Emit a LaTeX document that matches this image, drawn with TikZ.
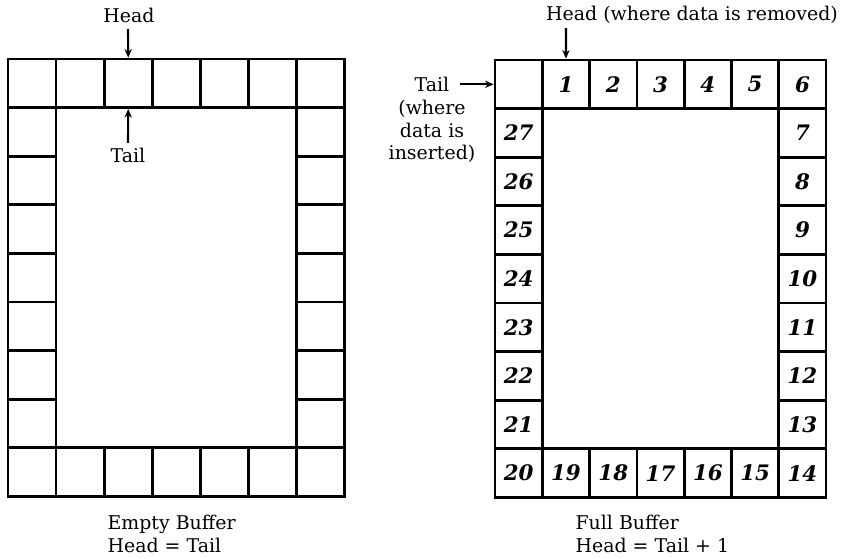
\documentclass[tikz,border=0pt]{standalone}
\usepackage{fontspec}
\setmainfont{DejaVu Serif}
\usepackage{tikz}
\usetikzlibrary{calc, arrows.meta}

\begin{document}
\begin{tikzpicture}[x=0.75pt, y=-0.75pt, >={Stealth[length=6.5pt, width=5.5pt]}]

% Styles
\tikzset{
  cellE/.style={draw, line width=2pt, minimum width=36.1pt, minimum height=36.45pt, inner sep=0pt},
  cellF/.style={draw, line width=2pt, minimum width=35.5pt, minimum height=36.45pt, inner sep=0pt,
    font=\fontsize{16}{16}\selectfont\bfseries\itshape},
  label/.style={font=\fontsize{14.2}{17}\selectfont},
  pointer/.style={->, line width=1.6pt}
}

% Page
\useasboundingbox (0,0) rectangle (846,558);

% Empty buffer (left)
\foreach \c in {0,...,6} {
  \node[cellE] (e-0-\c) at ({8+48.1*(\c+0.5)},{59+48.6*0.5}) {};
  \node[cellE] (e-8-\c) at ({8+48.1*(\c+0.5)},{59+48.6*8.5}) {};
}
\foreach \r in {1,...,7} {
  \node[cellE] (e-\r-0) at ({8+48.1*0.5},{59+48.6*(\r+0.5)}) {};
  \node[cellE] (e-\r-6) at ({8+48.1*6.5},{59+48.6*(\r+0.5)}) {};
}

% Head and tail of the empty buffer
\node[label] (headE) at (129,15) {Head};
\coordinate (headEtip) at (128,29);
\draw[pointer] (headEtip) -- (e-0-2.north);
\node[label] (tailE) at (128,155) {Tail};
\draw[pointer] (tailE.north) -- (e-0-2.south);

\node[label, anchor=west, align=left, inner sep=1pt] (capE) at (106,534) {Empty Buffer\\Head = Tail};

% Full buffer (right)
\node[cellF] (f-0-0) at ({495+47.3*0.5},{60+48.6*0.5}) {};
\foreach \c in {1,...,6}
  \node[cellF] (f-0-\c) at ({495+47.3*(\c+0.5)},{60+48.6*0.5}) {\c};
\foreach \r [evaluate=\r as \n using int(6+\r)] in {1,...,8}
  \node[cellF] (f-\r-6) at ({495+47.3*6.5},{60+48.6*(\r+0.5)}) {\n};
\foreach \c [evaluate=\c as \n using int(20-\c)] in {0,...,5}
  \node[cellF] (f-8-\c) at ({495+47.3*(\c+0.5)},{60+48.6*8.5}) {\n};
\foreach \r [evaluate=\r as \n using int(28-\r)] in {1,...,7}
  \node[cellF] (f-\r-0) at ({495+47.3*0.5},{60+48.6*(\r+0.5)}) {\n};

% Head and tail of the full buffer
\node[label] (headF) at (692,15) {Head (where data is removed)};
\coordinate (headFtip) at (566,28);
\draw[pointer] (headFtip) -- (f-0-1.north);
\node[label, align=center] (tailF) at (432,120) {Tail\\(where\\data is\\inserted)};
\coordinate (tailFtip) at (460,84.3);
\draw[pointer] (tailFtip) -- (f-0-0.west);

\node[label, anchor=west, align=left, inner sep=1pt] (capF) at (574,534) {Full Buffer\\Head = Tail + 1};

\end{tikzpicture}
\end{document}
